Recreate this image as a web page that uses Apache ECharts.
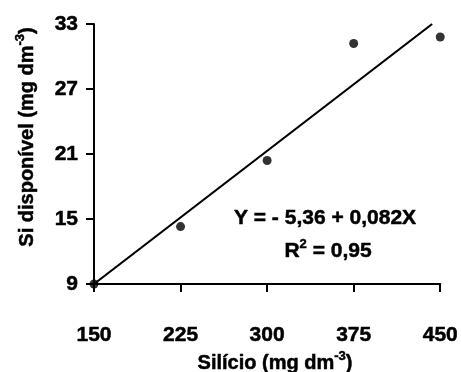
<!DOCTYPE html>
<html>
<head>
<meta charset="utf-8">
<script src="https://cdn.jsdelivr.net/npm/echarts@6/dist/echarts.min.js"></script>
<style>
  html, body { margin: 0; padding: 0; background: #fff; }
  #chart { width: 461px; height: 372px; }
</style>
</head>
<body>
<div id="chart"></div>
<script>
  // observed points
  const siX = [150, 225, 300, 375, 450];
  const siY = [9, 14.3, 20.4, 31.2, 31.8];
  // fitted line as drawn
  const fitX = [150, 443];
  const fitY = [9, 33];
  const xTicks = [150, 225, 300, 375, 450];
  const yTicks = [9, 15, 21, 27, 33];

  const font = '"Liberation Sans", Arial, sans-serif';
  // axis labels: a thin outline makes the bold look as heavy as the original
  const lbl = (size) => ({ fontSize: size, fontWeight: 'bold', fontFamily: font, color: '#000', textBorderColor: '#000', textBorderWidth: 0.5 });
  // free text (zrender style names)
  const txt = (size) => ({ fontSize: size, fontWeight: 'bold', fontFamily: font, fill: '#000', stroke: '#000', lineWidth: 0.5 });
  const sup = Object.assign(txt(13), { padding: [0, 0, 13, 0] });

  let myChart = echarts.init(document.getElementById('chart'));
  myChart.setOption({
    animation: false,
    grid: { left: 94, top: 24, width: 347, height: 260 },
    xAxis: {
      type: 'value',
      min: xTicks[0],
      max: xTicks[xTicks.length - 1],
      interval: 75,
      splitLine: { show: false },
      axisLine: { onZero: false, lineStyle: { color: '#000', width: 2 } },
      axisTick: { length: 8, lineStyle: { color: '#000', width: 2 } },
      axisLabel: Object.assign({ margin: 41 }, lbl(21))
    },
    yAxis: {
      type: 'value',
      min: yTicks[0],
      max: yTicks[yTicks.length - 1],
      interval: 6,
      splitLine: { show: false },
      axisLine: { show: true, onZero: false, lineStyle: { color: '#000', width: 2 } },
      axisTick: { show: true, length: 8, lineStyle: { color: '#000', width: 2 } },
      axisLabel: Object.assign({ margin: 16 }, lbl(21))
    },
    series: [{
      type: 'line',
      data: fitX.map((x, i) => [x, fitY[i]]),
      showSymbol: false,
      lineStyle: { color: '#000', width: 2.2 },
      z: 2
    }, {
      type: 'scatter',
      data: siX.map((x, i) => [x, siY[i]]),
      symbol: 'circle',
      symbolSize: 9,
      itemStyle: { color: '#000' },
      z: 3
    }],
    graphic: [{
      type: 'text', x: 325, y: 218,
      style: { text: '{a|Y = - 5,36 + 0,082X}', align: 'center', verticalAlign: 'middle', rich: { a: txt(21) } }
    }, {
      type: 'text', x: 328, y: 251,
      style: { text: '{a|R}{s|2}{a| = 0,95}', align: 'center', verticalAlign: 'middle', rich: { a: txt(21), s: sup } }
    }, {
      type: 'text', x: 275, y: 363,
      style: { text: '{a|Silício (mg dm}{s|-3}{a|)}', align: 'center', verticalAlign: 'middle', rich: { a: txt(20), s: sup } }
    }, {
      type: 'text', x: 27, y: 137, rotation: Math.PI / 2,
      style: { text: '{a|Si disponível (mg dm}{s|-3}{a|)}', align: 'center', verticalAlign: 'middle', rich: { a: txt(20), s: sup } }
    }]
  });
</script>
</body>
</html>
